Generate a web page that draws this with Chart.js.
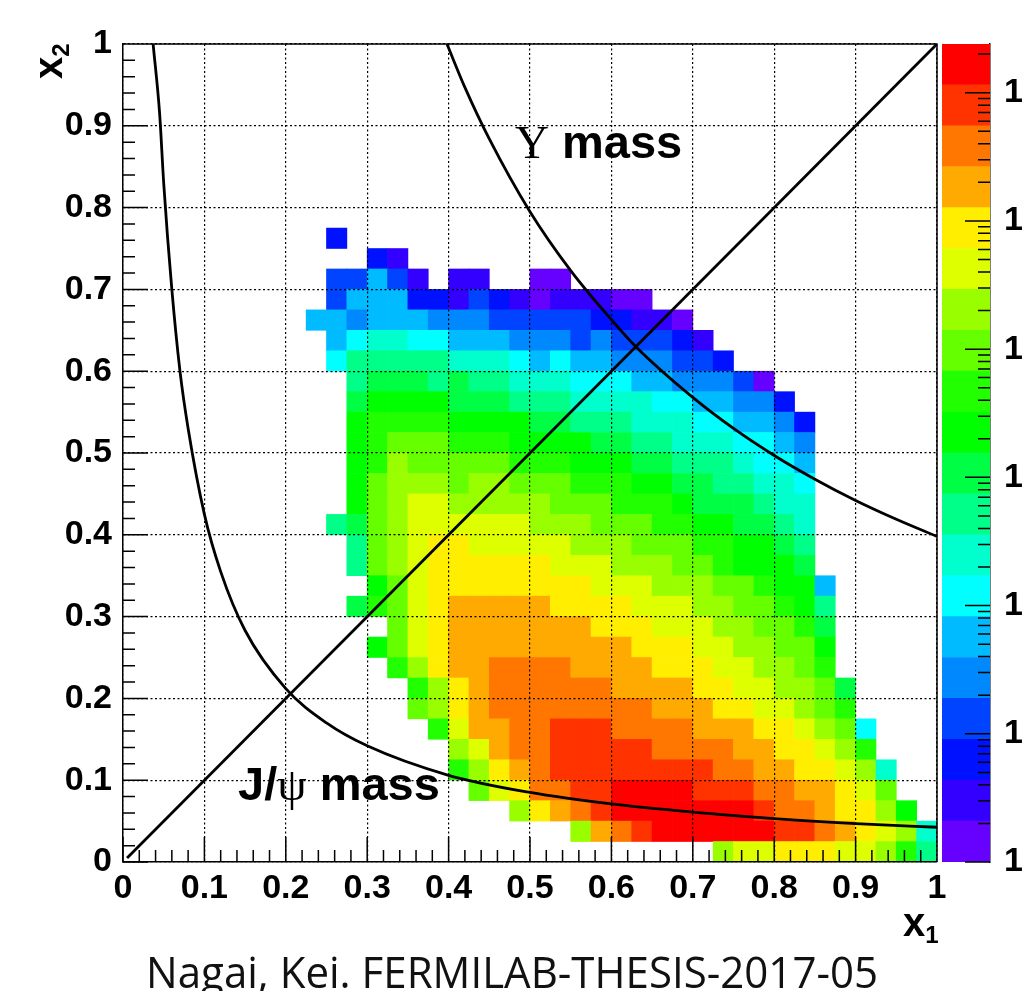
<!DOCTYPE html>
<html>
<head>
<meta charset="utf-8">
<script src="https://cdn.jsdelivr.net/npm/chart.js@4.4.1/dist/chart.umd.min.js"></script>
<style>
  html, body { margin: 0; padding: 0; background: #fff; }
  #wrap { position: relative; width: 1024px; height: 991px; overflow: hidden; background: #fff; }
  #main { position: absolute; left: 0; top: 0; }
  #zbar { position: absolute; left: 942px; top: 0; }
  .lbl { position: absolute; font-family: "Liberation Sans", Arial, sans-serif; font-weight: bold;
         color: #000; white-space: nowrap; line-height: 1; }
  .greek { font-family: "Liberation Serif", "Times New Roman", serif; font-weight: normal; }
  .sub { position: relative; top: 0.28em; font-size: 0.6em; }
  #caption { position: absolute; left: 0; top: 949px; width: 1024px; text-align: center;
             font-family: "Open Sans", sans-serif; font-size: 44px; line-height: 1; color: #111; }
  #caption span { display: inline-block; transform-origin: center; }
</style>
</head>
<body>
<div id="wrap">
  <canvas id="main" width="1024" height="991"></canvas>
  <canvas id="zbar" width="82" height="991"></canvas>
  <div class="lbl" style="left:515px; top:118px; font-size:47px;"><span class="greek">Υ</span> mass</div>
  <div class="lbl" style="left:238px; top:760px; font-size:47px;">J/<span class="greek">ψ</span> mass</div>
  <div class="lbl" style="left:903px; top:902px; font-size:40px;">x<span class="sub">1</span></div>
  <div class="lbl" style="left:28px; top:79px; font-size:40px; transform:rotate(-90deg); transform-origin:left top;">x<span class="sub">2</span></div>
  <div id="caption"><span>Nagai, Kei. FERMILAB-THESIS-2017-05</span></div>
</div>
<script>
// colour bands of the z axis, bottom (1 entry) to top
const zPalette = ['#6600ff', '#3300ff', '#0011ff', '#0044ff', '#0088ff', '#00bbff', '#00ffff',
                  '#00ffcc', '#00ff88', '#00ff44', '#00ff00', '#22ff00', '#66ff00', '#99ff00',
                  '#ddff00', '#ffee00', '#ffaa00', '#ff7700', '#ff3300', '#ff0000'];
const zTopLog = 6.38;   // top of colour scale in log10(entries)
const zLabels = ['1', '10', '10²', '10³', '10⁴', '10⁵', '10⁶'];

const binSize = 0.025;  // bin width in x1 and x2
// one string per x2 row, top row (x2 = 0.750-0.775) first, x1 = 0 at left.
// character = colour band 0..19 (0-9, A-J), '.' = empty bin
const cellRows = [
  '..........2.............................',
  '............21..........................',
  '..........33531.11..00..................',
  '..........3555221321011100..............',
  '.........5545554443333322110............',
  '..........5677665554443433321...........',
  '..........68888877765655444332..........',
  '...........899989887776665544430........',
  '...........9AAAA99988877776655442.......',
  '...........ABBBBAAAA99888777665542......',
  '...........ABCCCBBBAAAA99887776654......',
  '...........ABDCCCCCBBBAAA998887665......',
  '...........ACDDDCDDCCCBBBAA9988776......',
  '...........ACDEEDDDDDCCCBBBA999877......',
  '..........89CDEEEEEEDDDCCCBBAA9987......',
  '...........8CDEFFEEEEEDDDCCCBBAA98......',
  '...........8CDEFFFFFFEEEDDDCCBAAA9......',
  '............ACEFFFFFFFFEEEDDDCCBAA5.....',
  '...........9BCEFGGGGGFFFFEEEDDCCBA8.....',
  '.............CEFGGGGGGGFFFEEEDDCCB9.....',
  '............ACEFGGGGGGGGGFFFEEDDCCA.....',
  '.............BDFGGHHHHGGGGFFFEEDDCB.....',
  '..............BDFGHHHHHHGGGGFFEEDDC9....',
  '..............CDFGHHHHHHHHGGGFFEEDCB....',
  '...............BEGGHHIIIHHHHGGGFFEDC6...',
  '................DEGHHIIIIIHHHHGGFFEDB...',
  '................BDFGHIIIIIIIIHHGGFFED7..',
  '.................CEFHHIIJJJJIIIHHGGFEC..',
  '...................DFGHIJJJJJJJIHHGFFDA.',
  '......................DGHIJJJJJJIIHGFED7',
  '.............................DEEFFFEEDB8'
];

// mass curves and diagonal (x1, x2)
const jpsiX1 = [0.037, 0.045, 0.05, 0.06, 0.07, 0.08, 0.1, 0.12, 0.15, 0.2, 0.25, 0.3, 0.4, 0.5, 0.6, 0.7, 0.8, 0.9, 1.0];
const jpsiX2 = [1.0, 0.915, 0.83, 0.70, 0.60, 0.53, 0.425, 0.355, 0.283, 0.212, 0.17, 0.142, 0.106, 0.085, 0.071, 0.061, 0.053, 0.047, 0.0425];
const upsX1 = [0.398, 0.42, 0.45, 0.5, 0.55, 0.6, 0.63, 0.7, 0.75, 0.8, 0.85, 0.9, 0.95, 1.0];
const upsX2 = [1.0, 0.947, 0.884, 0.795, 0.723, 0.663, 0.63, 0.568, 0.53, 0.497, 0.468, 0.442, 0.419, 0.398];
const diagX1 = [0.005, 1.0];
const diagX2 = [0.005, 1.0];

const heatCells = [];
cellRows.forEach((row, k) => {
  const j = cellRows.length - 1 - k;
  for (let i = 0; i < row.length; i++) {
    if (row[i] === '.') continue;
    heatCells.push({x: (i + 0.5) * binSize, y: (j + 0.5) * binSize, z: parseInt(row[i], 20)});
  }
});
const toPts = (xs, ys) => xs.map((v, i) => ({x: v, y: ys[i]}));

const tickFont = {family: '"Liberation Sans", Arial, sans-serif', size: 34, weight: 'bold', lineHeight: 1};

// ROOT style: ticks inside the frame, plus the top/right frame line
const rootAxes = {
  id: 'rootAxes',
  afterDraw(chart) {
    const {ctx, chartArea: a, scales: {x, y}} = chart;
    ctx.save();
    ctx.strokeStyle = '#000';
    ctx.lineWidth = 1.5;
    ctx.beginPath();
    for (let k = 0; k <= 50; k++) {
      const len = k % 5 === 0 ? 25 : 12;
      const px = x.getPixelForValue(k / 50), py = y.getPixelForValue(k / 50);
      ctx.moveTo(px, a.bottom); ctx.lineTo(px, a.bottom - len);
      ctx.moveTo(a.left, py); ctx.lineTo(a.left + len, py);
    }
    ctx.moveTo(a.left, a.top); ctx.lineTo(a.right, a.top); ctx.lineTo(a.right, a.bottom);
    ctx.stroke();
    ctx.restore();
  }
};

const lineStyle = {showLine: true, pointRadius: 0, borderColor: '#000', borderWidth: 2.8,
                   cubicInterpolationMode: 'monotone', order: 0};

new Chart(document.getElementById('main'), {
  type: 'scatter',
  data: {
    datasets: [
      Object.assign({data: toPts(jpsiX1, jpsiX2)}, lineStyle),
      Object.assign({data: toPts(upsX1, upsX2)}, lineStyle),
      Object.assign({data: toPts(diagX1, diagX2)}, lineStyle),
      {
        data: heatCells,
        order: 10,
        pointStyle: 'rect',
        borderWidth: 0,
        backgroundColor: (c) => c.raw ? zPalette[c.raw.z] : '#000',
        pointRadius: (c) => {
          const xs = c.chart.scales.x, ys = c.chart.scales.y;
          const w = Math.abs(xs.getPixelForValue(binSize) - xs.getPixelForValue(0));
          const h = Math.abs(ys.getPixelForValue(binSize) - ys.getPixelForValue(0));
          return (Math.max(w, h) + 0.6) / Math.SQRT2;
        }
      }
    ]
  },
  options: {
    responsive: false,
    animation: false,
    events: [],
    layout: {padding: {left: 0, top: 44, right: 87, bottom: 0}},
    plugins: {legend: {display: false}, tooltip: {enabled: false}},
    scales: {
      x: {
        type: 'linear', min: 0, max: 1,
        afterFit: (s) => { s.height = 129; },
        ticks: {stepSize: 0.1, autoSkip: false, color: '#000', font: tickFont, padding: 10,
                maxRotation: 0, callback: (v) => String(Math.round(v * 10) / 10)},
        grid: {color: '#000', lineWidth: 1.2, drawTicks: false, z: 1},
        border: {display: true, color: '#000', width: 1.5, dash: [2, 2.5], z: 1}
      },
      y: {
        type: 'linear', min: 0, max: 1,
        afterFit: (s) => { s.width = 123; },
        ticks: {stepSize: 0.1, autoSkip: false, color: '#000', font: tickFont, padding: 11,
                callback: (v) => String(Math.round(v * 10) / 10)},
        grid: {color: '#000', lineWidth: 1.2, drawTicks: false, z: 1},
        border: {display: true, color: '#000', width: 1.5, dash: [2, 2.5], z: 1}
      }
    }
  },
  plugins: [rootAxes]
});

// colour scale: stacked bands on a log10 axis
const bandSize = zTopLog / zPalette.length;
const zTicks = {
  id: 'zTicks',
  afterDraw(chart) {
    const {ctx, chartArea: a, scales: {y}} = chart;
    ctx.save();
    ctx.strokeStyle = '#000';
    ctx.lineWidth = 1.5;
    ctx.beginPath();
    for (let d = 0; d <= Math.floor(zTopLog); d++) {
      for (let m = 1; m <= 9; m++) {
        const v = d + Math.log10(m);
        if (v > zTopLog) break;
        const len = m === 1 ? 25 : 12;
        const py = y.getPixelForValue(v);
        ctx.moveTo(a.right, py); ctx.lineTo(a.right - len, py);
      }
    }
    ctx.stroke();
    ctx.restore();
  }
};

new Chart(document.getElementById('zbar'), {
  type: 'bar',
  data: {
    labels: ['z'],
    datasets: zPalette.map((c) => ({data: [bandSize], backgroundColor: c, borderWidth: 0,
                                    barPercentage: 1, categoryPercentage: 1}))
  },
  options: {
    responsive: false,
    animation: false,
    events: [],
    layout: {padding: {left: 0, top: 44, right: 0, bottom: 129}},
    plugins: {legend: {display: false}, tooltip: {enabled: false}},
    scales: {
      x: {stacked: true, display: false},
      y: {
        stacked: true, position: 'right', min: 0, max: zTopLog,
        afterFit: (s) => { s.width = 34; },
        ticks: {stepSize: 1, includeBounds: false, color: '#000', font: tickFont, padding: 6,
                callback: (v) => zLabels[Math.round(v)]},
        grid: {display: false},
        border: {display: true, color: '#000', width: 1.5}
      }
    }
  },
  plugins: [zTicks]
});

// squeeze the caption to the width it has in the picture
const cap = document.querySelector('#caption span');
cap.style.transform = 'scaleX(' + (732 / cap.getBoundingClientRect().width) + ')';
</script>
</body>
</html>
